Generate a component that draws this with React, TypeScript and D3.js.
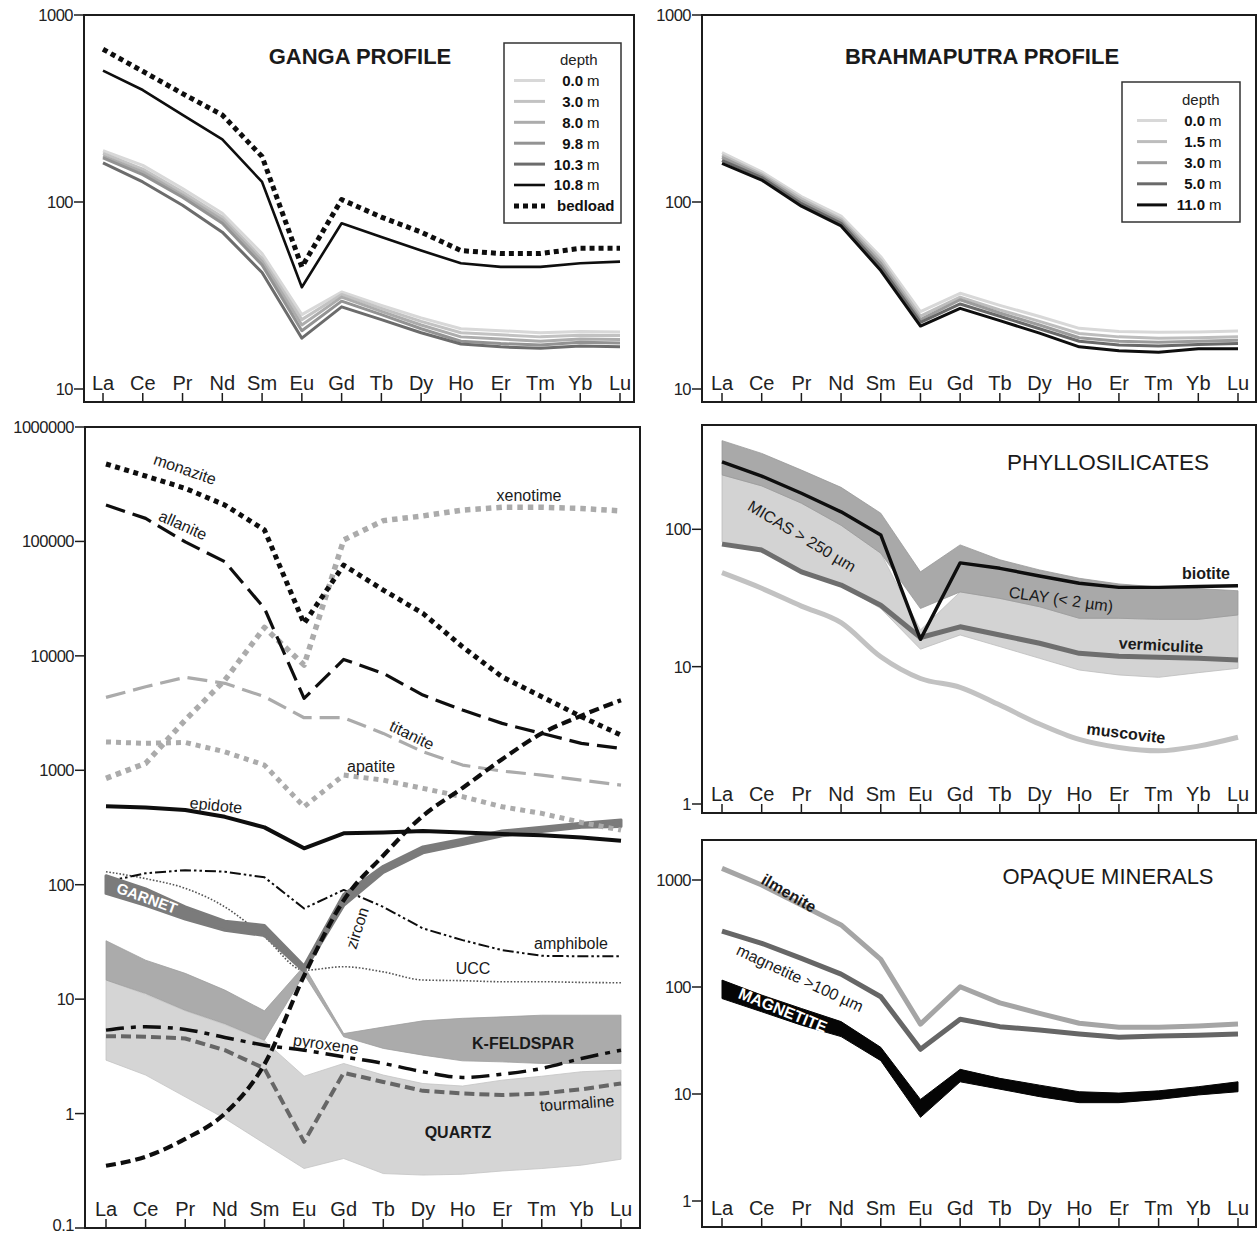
import React from 'react';
import * as d3 from 'd3';

const FONT = '"Liberation Sans", Arial, Helvetica, sans-serif';

const ELEMENTS = ['La', 'Ce', 'Pr', 'Nd', 'Sm', 'Eu', 'Gd', 'Tb', 'Dy', 'Ho', 'Er', 'Tm', 'Yb', 'Lu'];

// ---- Ganga profile (chondrite-normalised REE) ----
const GANGA_LABELS = ['0.0', '3.0', '8.0', '9.8', '10.3', '10.8', 'bedload'];
const ganga_0_0 = [188, 157, 118, 87, 53, 25, 33, 28, 24, 21, 20.5, 20, 20.3, 20.2];
const ganga_3_0 = [182, 150, 113, 83, 50, 23.5, 32, 27, 23, 20, 19.5, 19, 19.4, 19.3];
const ganga_8_0 = [176, 145, 109, 80, 48, 22, 31, 26, 22, 19, 18.5, 18, 18.5, 18.4];
const ganga_9_8 = [172, 140, 106, 77, 46, 20.5, 29.5, 25, 21, 18, 17.5, 17.2, 17.8, 17.6];
const ganga_10_3 = [162, 128, 96, 69, 42, 18.7, 27.5, 23.5, 20, 17.4, 16.8, 16.5, 17.0, 16.8];
const ganga_10_8 = [504, 397, 292, 216, 128, 35, 77, 65, 55, 47, 45, 45, 47, 48];
const ganga_bedload = [656, 500, 380, 292, 175, 45, 103, 83, 69, 55, 53, 53, 56.5, 56.5];

// ---- Brahmaputra profile ----
const BRAHMA_LABELS = ['0.0', '1.5', '3.0', '5.0', '11.0'];
const brahma_0_0 = [184, 145, 107, 84, 51, 25.9, 32.5, 28, 24.4, 21.1, 20.3, 20.1, 20.2, 20.4];
const brahma_1_5 = [178, 141, 104, 81, 49, 24.5, 31, 26.5, 23, 19.8, 19, 18.7, 18.8, 19];
const brahma_3_0 = [173, 138, 101, 79, 47, 23.5, 30, 25.5, 22, 18.8, 18, 17.8, 18, 18.2];
const brahma_5_0 = [167, 135, 98, 77, 45, 22.7, 28.5, 24.5, 21, 18, 17.2, 17, 17.3, 17.5];
const brahma_11_0 = [161, 131, 95, 74.5, 43, 21.7, 27, 23.2, 19.9, 16.8, 16, 15.7, 16.4, 16.4];

// ---- Accessory and rock-forming minerals ----
const monazite = [475000, 373000, 291000, 208000, 126000, 19200, 62000, 37600, 23500, 12000, 6560, 4390, 2940, 2030];
const allanite = [208000, 159000, 99000, 66500, 26000, 4250, 9300, 7030, 4540, 3360, 2570, 2100, 1720, 1550];
const xenotime = [850, 1150, 2750, 6140, 17700, 8300, 103000, 152000, 167000, 188000, 199000, 199000, 194000, 185000];
const titanite = [4340, 5370, 6490, 5750, 4400, 2880, 2880, 2100, 1450, 1110, 984, 908, 820, 743];
const apatite = [1770, 1720, 1750, 1450, 1110, 480, 908, 820, 695, 588, 480, 420, 350, 300];
const epidote = [486, 473, 449, 392, 317, 208, 281, 286, 294, 286, 277, 271, 259, 242];
const zircon = [0.35, 0.42, 0.6, 1.0, 2.7, 16, 73, 180, 400, 700, 1250, 2100, 3000, 4100];
const garnetLow = [84, 66, 50, 40, 36, 17.5, 66, 128, 190, 225, 268, 292, 318, 323];
const garnetHigh = [120, 92, 64, 48, 44, 19.5, 82, 145, 214, 250, 295, 318, 345, 368];
const ucc = [130, 113, 93, 64, 35, 17.9, 19.2, 17.3, 14.7, 14.5, 14.2, 14.2, 14.0, 13.9];
const amphibole = [106, 126, 134, 130, 116, 62, 90, 64, 41.5, 32.8, 26.8, 23.9, 23.7, 23.7];
const pyroxene = [5.36, 5.73, 5.43, 4.63, 3.96, 3.58, 3.13, 2.74, 2.32, 2.07, 2.21, 2.48, 3.03, 3.58];
const tourmaline = [4.75, 4.7, 4.53, 3.58, 2.48, 0.566, 2.27, 1.89, 1.58, 1.5, 1.45, 1.5, 1.63, 1.83];
const kfeldsparHigh = [32.4, 21.9, 16.8, 12, 7.9, 19.5, 5.0, 5.7, 6.46, 6.8, 7.0, 7.24, 7.24, 7.24];
const kfeldsparLow = [14.7, 11.2, 8.0, 6.1, 4.38, 16.5, 4.69, 3.71, 3.24, 2.89, 2.83, 2.74, 2.74, 2.74];
const quartzHigh = [14.7, 11, 7.9, 6.0, 4.33, 2.12, 2.74, 2.17, 1.83, 1.74, 1.96, 2.12, 2.32, 2.4];
const quartzLow = [2.93, 2.17, 1.4, 0.906, 0.547, 0.331, 0.405, 0.299, 0.29, 0.295, 0.315, 0.331, 0.354, 0.399];

// ---- Phyllosilicates ----
const biotite = [310, 244, 183, 134, 91, 15.8, 57, 52, 45.7, 40.5, 37.8, 37.8, 38.3, 38.8];
const clayHigh = [442, 357, 270, 202, 131, 49, 77, 60, 50.6, 44, 40, 38, 37, 35.7];
const clayLow = [249, 207, 155, 107, 67, 26.5, 35, 31.4, 27.3, 22.5, 22.5, 22.1, 22.1, 23.8];
const micasHigh = [249, 207, 155, 107, 67, 18.5, 35, 31.4, 27.3, 22.5, 22.5, 22.1, 22.1, 23.8];
const micasLow = [81, 73, 50.6, 39, 26.5, 13.4, 17, 14, 11.5, 9.45, 8.7, 8.36, 9.04, 9.73];
const vermiculite = [78, 70.6, 49, 39.3, 28, 16.3, 19.5, 17, 14.8, 12.5, 11.9, 11.7, 11.5, 11.2];
const muscovite = [48.3, 37.2, 27.6, 20.9, 11.8, 8.2, 7.07, 5.25, 3.82, 2.95, 2.58, 2.44, 2.64, 3.06];

// ---- Opaque minerals ----
const ilmenite = [1285, 898, 583, 380, 181, 45, 100.6, 71, 56.7, 45.8, 42, 42, 43.3, 45];
const magnetiteCoarse = [333, 256, 185, 132, 81, 26.2, 49.9, 42.6, 39.6, 36.4, 33.9, 34.9, 35.5, 36.4];
const magnetiteHigh = [116, 84, 63, 47.5, 27.3, 8.9, 17, 14, 12.1, 10.5, 10.2, 10.7, 11.7, 13.0];
const magnetiteLow = [78, 58.7, 44, 34.4, 20.5, 6.05, 13, 11.1, 9.45, 8.3, 8.3, 8.9, 9.8, 10.5];

// ---- Tick values for the log axes ----
const TICKS_PROFILE = [1000, 100, 10];
const TICKS_MINERALS = [1000000, 100000, 10000, 1000, 100, 10, 1, 0.1];
const TICKS_PHYLLO = [100, 10, 1];
const TICKS_OPAQUE = [1000, 100, 10, 1];

type Frame = {
  id: string;
  left: number; right: number; top: number; bottom: number;
  xFirst: number; xLast: number;
  ticks: number[]; tickTop: number; tickBottom: number;
};

const FRAMES: Record<string, Frame> = {
  ganga: { id: 'ganga', left: 84, right: 634, top: 15, bottom: 402, xFirst: 103, xLast: 620, ticks: TICKS_PROFILE, tickTop: 15, tickBottom: 389 },
  brahma: { id: 'brahma', left: 702, right: 1256, top: 15, bottom: 402, xFirst: 722, xLast: 1238, ticks: TICKS_PROFILE, tickTop: 15, tickBottom: 389 },
  minerals: { id: 'minerals', left: 85, right: 640, top: 427, bottom: 1228, xFirst: 106, xLast: 621, ticks: TICKS_MINERALS, tickTop: 427, tickBottom: 1228 },
  phyllo: { id: 'phyllo', left: 702, right: 1256, top: 425, bottom: 813, xFirst: 722, xLast: 1238, ticks: TICKS_PHYLLO, tickTop: 529.3, tickBottom: 804 },
  opaque: { id: 'opaque', left: 702, right: 1256, top: 840, bottom: 1227, xFirst: 722, xLast: 1238, ticks: TICKS_OPAQUE, tickTop: 880, tickBottom: 1201 },
};

function scalesFor(f: Frame) {
  const x = d3.scalePoint<string>().domain(ELEMENTS).range([f.xFirst, f.xLast]);
  const y = d3.scaleLog().domain([f.ticks[0], f.ticks[f.ticks.length - 1]]).range([f.tickTop, f.tickBottom]);
  return { x, y };
}

function linePath(vals: number[], f: Frame, curve: d3.CurveFactory = d3.curveLinear) {
  const { x, y } = scalesFor(f);
  return d3.line<number>().x((_, i) => x(ELEMENTS[i]) as number).y((d) => y(d)).curve(curve)(vals) || '';
}

function bandPath(lo: number[], hi: number[], f: Frame, curve: d3.CurveFactory = d3.curveLinear) {
  const { x, y } = scalesFor(f);
  return d3.area<number>()
    .x((_, i) => x(ELEMENTS[i]) as number)
    .y0((_, i) => y(lo[i]))
    .y1((d) => y(d))
    .curve(curve)(hi) || '';
}

const INK = '#1c1c1c';

function Axes({ f }: { f: Frame }) {
  const { x, y } = scalesFor(f);
  return (
    <g>
      <rect x={f.left} y={f.top} width={f.right - f.left} height={f.bottom - f.top} fill="none" stroke={INK} strokeWidth={2} />
      {f.ticks.map((t) => {
        const ty = y(t);
        // keep the lowest label inside the page
        const labelY = Math.min(ty, 1225);
        return (
          <g key={t}>
            <line x1={f.left - 10} x2={f.left} y1={ty} y2={ty} stroke={INK} strokeWidth={1.5} />
            <text x={f.left - 11} y={labelY} dy="0.36em" textAnchor="end" fontSize={16.5} fill="#222" letterSpacing={-0.5}>
              {String(t)}
            </text>
          </g>
        );
      })}
      {ELEMENTS.map((e) => (
        <g key={e}>
          <line x1={x(e)} x2={x(e)} y1={f.bottom} y2={f.bottom - 9} stroke={INK} strokeWidth={1.5} />
          <text x={x(e)} y={f.bottom - 19.5} dy="0.36em" textAnchor="middle" fontSize={20} fill="#222">
            {e}
          </text>
        </g>
      ))}
    </g>
  );
}

function Clip({ f }: { f: Frame }) {
  return (
    <clipPath id={`clip-${f.id}`}>
      <rect x={f.left} y={f.top} width={f.right - f.left} height={f.bottom - f.top} />
    </clipPath>
  );
}

type Stroke = { color: string; width: number; dash?: string; cap?: 'butt' | 'round' | 'square' };

function Series({ vals, f, s, curve }: { vals: number[]; f: Frame; s: Stroke; curve?: d3.CurveFactory }) {
  return (
    <path d={linePath(vals, f, curve)} fill="none" stroke={s.color} strokeWidth={s.width}
      strokeDasharray={s.dash} strokeLinecap={s.cap || 'butt'} strokeLinejoin="round" />
  );
}

function Label({ x, y, text, rotate = 0, size = 16, bold = false, fill = '#1a1a1a', anchor = 'middle' }:
  { x: number; y: number; text: React.ReactNode; rotate?: number; size?: number; bold?: boolean; fill?: string; anchor?: 'start' | 'middle' | 'end' }) {
  return (
    <text transform={`translate(${x},${y}) rotate(${rotate})`} dy="0.36em" textAnchor={anchor}
      fontSize={size} fontWeight={bold ? 'bold' : 'normal'} fill={fill}>
      {text}
    </text>
  );
}

// Depth legend: line sample, bold value aligned on its right edge, plain unit
function DepthLegend({ x0, y0, w, h, headY, rowTop, rowStep, lineX0, lineX1, numRight, labels, styles }:
  { x0: number; y0: number; w: number; h: number; headY: number; rowTop: number; rowStep: number; lineX0: number; lineX1: number; numRight: number; labels: string[]; styles: Stroke[] }) {
  return (
    <g>
      <rect x={x0} y={y0} width={w} height={h} fill="#fff" stroke="#333" strokeWidth={1.5} />
      <text x={numRight - 23} y={headY} dy="0.36em" fontSize={15} fill="#222">depth</text>
      {labels.map((lab, i) => {
        const yy = rowTop + rowStep * i;
        const s = styles[i];
        const isDepth = lab !== 'bedload';
        return (
          <g key={lab}>
            <line x1={lineX0} x2={lineX1} y1={yy} y2={yy} stroke={s.color} strokeWidth={s.width} strokeDasharray={s.dash} />
            {isDepth ? (
              <>
                <text x={numRight} y={yy} dy="0.36em" fontSize={15} fontWeight="bold" textAnchor="end" fill="#111">{lab}</text>
                <text x={numRight + 4} y={yy} dy="0.36em" fontSize={15} fill="#111">m</text>
              </>
            ) : (
              <text x={numRight - 26} y={yy} dy="0.36em" fontSize={15} fontWeight="bold" fill="#111">{lab}</text>
            )}
          </g>
        );
      })}
    </g>
  );
}

const GANGA_STYLES: Stroke[] = [
  { color: '#d8d8d8', width: 3 },
  { color: '#c2c2c2', width: 3 },
  { color: '#acacac', width: 3 },
  { color: '#939393', width: 3 },
  { color: '#6c6c6c', width: 3 },
  { color: '#0e0e0e', width: 2.6 },
  { color: '#0e0e0e', width: 5, dash: '5 4' },
];

const BRAHMA_STYLES: Stroke[] = [
  { color: '#d8d8d8', width: 3 },
  { color: '#bdbdbd', width: 3 },
  { color: '#9c9c9c', width: 3 },
  { color: '#6a6a6a', width: 3 },
  { color: '#0e0e0e', width: 3 },
];

function GangaPanel() {
  const f = FRAMES.ganga;
  const series = [ganga_0_0, ganga_3_0, ganga_8_0, ganga_9_8, ganga_10_3, ganga_10_8, ganga_bedload];
  return (
    <g>
      <g clipPath={`url(#clip-${f.id})`}>
        {series.map((vals, i) => (
          <Series key={GANGA_LABELS[i]} vals={vals} f={f} s={GANGA_STYLES[i]} />
        ))}
      </g>
      <Label x={360} y={56} text="GANGA PROFILE" size={22} bold />
      <DepthLegend x0={504} y0={43} w={117} h={180} headY={59.5} rowTop={80.5} rowStep={20.9}
        lineX0={514} lineX1={545} numRight={583} labels={GANGA_LABELS} styles={GANGA_STYLES} />
      <Axes f={f} />
    </g>
  );
}

function BrahmaPanel() {
  const f = FRAMES.brahma;
  const series = [brahma_0_0, brahma_1_5, brahma_3_0, brahma_5_0, brahma_11_0];
  return (
    <g>
      <g clipPath={`url(#clip-${f.id})`}>
        {series.map((vals, i) => (
          <Series key={BRAHMA_LABELS[i]} vals={vals} f={f} s={BRAHMA_STYLES[i]} />
        ))}
      </g>
      <Label x={982} y={56} text="BRAHMAPUTRA PROFILE" size={22} bold />
      <DepthLegend x0={1122} y0={82} w={118} h={140} headY={99.5} rowTop={120.5} rowStep={21.1}
        lineX0={1137} lineX1={1167} numRight={1205} labels={BRAHMA_LABELS} styles={BRAHMA_STYLES} />
      <Axes f={f} />
    </g>
  );
}

function MineralsPanel() {
  const f = FRAMES.minerals;
  const smooth = d3.curveMonotoneX;
  return (
    <g>
      <g clipPath={`url(#clip-${f.id})`}>
        <path d={bandPath(quartzLow, quartzHigh, f)} fill="#d5d5d5" stroke="#c4c4c4" strokeWidth={0.8} />
        <path d={bandPath(kfeldsparLow, kfeldsparHigh, f)} fill="#ababab" stroke="#9e9e9e" strokeWidth={0.8} />
        <Series vals={tourmaline} f={f} s={{ color: '#666', width: 4, dash: '10 5' }} />
        <Series vals={pyroxene} f={f} s={{ color: '#0e0e0e', width: 3.5, dash: '18 7 5 7' }} curve={smooth} />
        <Series vals={ucc} f={f} s={{ color: '#555', width: 1.6, dash: '1.6 1.8' }} curve={smooth} />
        <Series vals={amphibole} f={f} s={{ color: '#0e0e0e', width: 2, dash: '11 3 2.5 3 2.5 3' }} />
        <path d={bandPath(garnetLow, garnetHigh, f)} fill="#7b7b7b" stroke="#7b7b7b" strokeWidth={3} strokeLinejoin="round" />
        <Series vals={epidote} f={f} s={{ color: '#0e0e0e', width: 4 }} />
        <Series vals={apatite} f={f} s={{ color: '#ababab', width: 5, dash: '5 5' }} />
        <Series vals={titanite} f={f} s={{ color: '#ababab', width: 3.2, dash: '20 8' }} />
        <Series vals={xenotime} f={f} s={{ color: '#ababab', width: 5.5, dash: '5.5 5' }} />
        <Series vals={allanite} f={f} s={{ color: '#0e0e0e', width: 3.2, dash: '20 8' }} />
        <Series vals={monazite} f={f} s={{ color: '#0e0e0e', width: 5, dash: '5 4.5' }} />
        <Series vals={zircon} f={f} s={{ color: '#0e0e0e', width: 4.2, dash: '10 5' }} curve={smooth} />
      </g>
      <Label x={185} y={469} text="monazite" rotate={19} />
      <Label x={183} y={525} text="allanite" rotate={24} />
      <Label x={529} y={495} text="xenotime" />
      <Label x={412} y={735} text="titanite" rotate={26} />
      <Label x={371} y={766} text="apatite" />
      <Label x={216} y={805} text="epidote" rotate={6} />
      <Label x={147} y={898} text="GARNET" rotate={20} bold fill="#ffffff" size={15} />
      <Label x={357} y={928} text="zircon" rotate={-72} />
      <Label x={571} y={943} text="amphibole" />
      <Label x={473} y={968} text="UCC" />
      <Label x={326} y={1044} text="pyroxene" rotate={8} />
      <Label x={523} y={1043} text="K-FELDSPAR" bold />
      <Label x={577} y={1103} text="tourmaline" rotate={-4} />
      <Label x={458} y={1132} text="QUARTZ" bold />
      <Axes f={f} />
    </g>
  );
}

function PhylloPanel() {
  const f = FRAMES.phyllo;
  const smooth = d3.curveMonotoneX;
  return (
    <g>
      <g clipPath={`url(#clip-${f.id})`}>
        <path d={bandPath(micasLow, micasHigh, f)} fill="#d3d3d3" stroke="#bdbdbd" strokeWidth={0.8} />
        <path d={bandPath(clayLow, clayHigh, f)} fill="#a9a9a9" stroke="#999" strokeWidth={0.8} />
        <Series vals={muscovite} f={f} s={{ color: '#c2c2c2', width: 5 }} curve={smooth} />
        <Series vals={vermiculite} f={f} s={{ color: '#6e6e6e', width: 5 }} />
        <Series vals={biotite} f={f} s={{ color: '#0e0e0e', width: 3.4 }} />
      </g>
      <Label x={1108} y={462} text="PHYLLOSILICATES" size={22.5} />
      <Label x={802} y={536} text={<>MICAS &gt; 250 µm</>} rotate={31} />
      <Label x={1061} y={599} text={<>CLAY (&lt; 2 µm)</>} rotate={8} />
      <Label x={1206} y={573} text="biotite" bold />
      <Label x={1161} y={645} text="vermiculite" bold rotate={3} />
      <Label x={1126} y={733} text="muscovite" bold rotate={7} />
      <Axes f={f} />
    </g>
  );
}

function OpaquePanel() {
  const f = FRAMES.opaque;
  return (
    <g>
      <g clipPath={`url(#clip-${f.id})`}>
        <path d={bandPath(magnetiteLow, magnetiteHigh, f)} fill="#050505" stroke="#050505" strokeWidth={1} strokeLinejoin="round" />
        <Series vals={magnetiteCoarse} f={f} s={{ color: '#666', width: 5 }} />
        <Series vals={ilmenite} f={f} s={{ color: '#a5a5a5', width: 5 }} />
      </g>
      <Label x={1108} y={876} text="OPAQUE MINERALS" size={22} />
      <Label x={789} y={893} text="ilmenite" bold rotate={30} />
      <Label x={800} y={978} text={<>magnetite &gt;100 µm</>} rotate={25} />
      <Label x={783} y={1010} text="MAGNETITE" bold rotate={22} fill="#ffffff" />
      <Axes f={f} />
    </g>
  );
}

export default function App() {
  return (
    <svg width={1258} height={1233} viewBox="0 0 1258 1233"
      style={{ position: 'absolute', left: 0, top: 0, background: '#fff', fontFamily: FONT }}>
      <defs>
        {Object.values(FRAMES).map((f) => <Clip key={f.id} f={f} />)}
      </defs>
      <rect x={0} y={0} width={1258} height={1233} fill="#fff" />
      <GangaPanel />
      <BrahmaPanel />
      <MineralsPanel />
      <PhylloPanel />
      <OpaquePanel />
    </svg>
  );
}
